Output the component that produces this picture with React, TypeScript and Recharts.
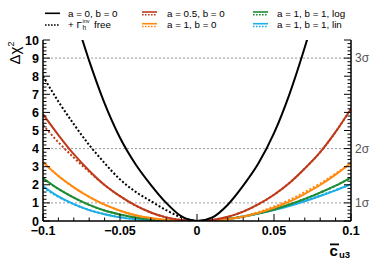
import React from 'react';
import { LineChart, Line, XAxis, YAxis, ReferenceLine } from 'recharts';

// c_u3 scan points
const cu3 = [-0.1, -0.09, -0.08, -0.07, -0.06, -0.05, -0.04, -0.03, -0.02, -0.01, 0, 0.01, 0.02, 0.03, 0.04, 0.05, 0.06, 0.07, 0.08, 0.09, 0.1];

// delta chi2 per scenario (solid = nominal, dotted = + Gamma_h^inv free)
const a0b0 = [17.0, 14.0, 11.5, 8.85, 6.5, 4.6, 3.15, 2.0, 1.0, 0.25, 0, 0.2, 0.9, 1.95, 3.2, 4.85, 7.0, 9.6, 12.5, 15.6, 19.0];
const a0b0Free = [8.0, 6.6, 5.35, 4.2, 3.2, 2.3, 1.62, 1.1, 0.6, 0.2, 0, null, null, null, null, null, null, null, null, null, null];
const a05b0 = [5.9, 4.75, 3.69, 2.78, 1.99, 1.37, 0.86, 0.47, 0.2, 0.05, 0, 0.06, 0.23, 0.52, 0.93, 1.45, 2.1, 2.9, 3.8, 4.92, 6.2];
const a05b0Free = [5.3, 4.35, 3.5, 2.72, 1.99, 1.37, 0.86, 0.47, 0.2, 0.05, 0, 0.06, 0.23, 0.52, 0.93, 1.45, 2.1, 2.9, 3.8, 4.92, 6.2];
const a1b0 = [3.25, 2.49, 1.86, 1.33, 0.9, 0.57, 0.32, 0.16, 0.06, 0.01, 0, 0.02, 0.1, 0.24, 0.45, 0.73, 1.07, 1.5, 1.99, 2.56, 3.2];
const a1b0Free = [3.25, 2.49, 1.86, 1.33, 0.9, 0.57, 0.32, 0.16, 0.06, 0.01, 0, 0.02, 0.1, 0.26, 0.5, 0.8, 1.16, 1.6, 2.07, 2.62, 3.2];
const a1b1Log = [2.36, 1.77, 1.29, 0.89, 0.58, 0.36, 0.19, 0.09, 0.03, 0.005, 0, 0.03, 0.11, 0.24, 0.42, 0.64, 0.91, 1.22, 1.57, 1.95, 2.4];
const a1b1LogFree = [2.36, 1.77, 1.29, 0.89, 0.58, 0.36, 0.19, 0.09, 0.03, 0.005, 0, 0.03, 0.11, 0.24, 0.42, 0.64, 0.91, 1.22, 1.57, 1.95, 2.4];
const a1b1Lin = [1.92, 1.36, 0.93, 0.6, 0.37, 0.2, 0.1, 0.04, 0.01, 0.001, 0, 0.037, 0.12, 0.25, 0.41, 0.6, 0.83, 1.09, 1.38, 1.69, 2.03];
const a1b1LinFree = [1.86, 1.33, 0.93, 0.61, 0.38, 0.21, 0.1, 0.04, 0.01, 0.001, 0, 0.037, 0.12, 0.26, 0.43, 0.63, 0.87, 1.13, 1.41, 1.71, 2.03];

const xMajorLabels = ['\u22120.1', '\u22120.05', '0', '0.05', '0.1'];
const sigmaLevels = [1, 4, 9];
const sigmaLabels = ['1\u03c3', '2\u03c3', '3\u03c3'];

const data = cu3.map((x, i) => ({
  x,
  a0b0: a0b0[i],
  a0b0Free: a0b0Free[i],
  a05b0: a05b0[i],
  a05b0Free: a05b0Free[i],
  a1b0: a1b0[i],
  a1b0Free: a1b0Free[i],
  log: a1b1Log[i],
  logFree: a1b1LogFree[i],
  lin: a1b1Lin[i],
  linFree: a1b1LinFree[i],
}));

const RED = '#bf3a1a';
const ORANGE = '#ff8a10';
const GREEN = '#1f8c35';
const CYAN = '#1eaee6';

const FONT = '"Liberation Sans", Arial, Helvetica, sans-serif';
const PL = 43;
const PR = 351;
const PT = 40;
const PB = 221;

const xTicks = Array.from({ length: 21 }, (_, i) => (i - 10) / 100);
const yTicks = Array.from({ length: 51 }, (_, i) => i / 5);

const BottomTick = (p: any) => {
  const major = p.index % 5 === 0;
  return (
    <g>
      <line x1={p.x} x2={p.x} y1={PB} y2={PB - (major ? 7 : 3.5)} stroke="#000" />
      {major && (
        <text x={p.x} y={235} textAnchor="middle" fontSize={12.5} fontWeight="bold" fontFamily={FONT} fill="#000">
          {xMajorLabels[p.index / 5]}
        </text>
      )}
    </g>
  );
};

const TopTick = (p: any) => {
  const major = p.index % 5 === 0;
  return <line x1={p.x} x2={p.x} y1={PT} y2={PT + (major ? 7 : 3.5)} stroke="#000" />;
};

const LeftTick = (p: any) => {
  const major = p.index % 5 === 0;
  return (
    <g>
      <line x1={PL} x2={PL + (major ? 7 : 3.5)} y1={p.y} y2={p.y} stroke="#000" />
      {major && (
        <text x={39} y={p.y} dy="0.36em" textAnchor="end" fontSize={12.5} fontWeight="bold" fontFamily={FONT} fill="#000">
          {p.index / 5}
        </text>
      )}
    </g>
  );
};

const RightTick = (p: any) => {
  const major = p.index % 5 === 0;
  const v = p.index / 5;
  const s = sigmaLevels.indexOf(v);
  return (
    <g>
      <line x1={PR} x2={PR - (major ? 7 : 3.5)} y1={p.y} y2={p.y} stroke="#000" />
      {major && s >= 0 && (
        <text x={355} y={p.y} dy="0.36em" fontSize={12} fontFamily={FONT} fill="#555">
          {sigmaLabels[s]}
        </text>
      )}
    </g>
  );
};

const Sym = ({ x, y, color, kind }: { x: number; y: number; color: string; kind: string }) => (
  <g>
    {kind !== 'dot' && (
      <line x1={x} x2={x + 15} y1={kind === 'both' ? y - 1.3 : y} y2={kind === 'both' ? y - 1.3 : y} stroke={color} strokeWidth={1.6} />
    )}
    {kind !== 'solid' && (
      <line x1={x} x2={x + 15} y1={kind === 'both' ? y + 1.5 : y} y2={kind === 'both' ? y + 1.5 : y} stroke={color} strokeWidth={1.6} strokeDasharray="1.6 1.4" />
    )}
  </g>
);

const lineProps = { type: 'monotone' as const, dot: false, isAnimationActive: false, xAxisId: 'b', yAxisId: 'l', strokeWidth: 2 };

export default function App() {
  return (
    <div style={{ position: 'absolute', left: 0, top: 0, width: 390, height: 265, background: '#fff' }}>
      <LineChart width={390} height={265} data={data} margin={{ top: 40, right: 0, bottom: 0, left: 0 }}>
        <XAxis
          xAxisId="b"
          dataKey="x"
          type="number"
          domain={[-0.1, 0.1]}
          ticks={xTicks}
          interval={0}
          allowDataOverflow
          height={44}
          axisLine={{ stroke: '#000', strokeWidth: 1.5 }}
          tickLine={false}
          tick={(p: any) => <BottomTick {...p} />}
        />
        <XAxis
          xAxisId="t"
          orientation="top"
          dataKey="x"
          type="number"
          domain={[-0.1, 0.1]}
          ticks={xTicks}
          interval={0}
          allowDataOverflow
          height={0}
          axisLine={{ stroke: '#000', strokeWidth: 1.5 }}
          tickLine={false}
          tick={(p: any) => <TopTick {...p} />}
        />
        <YAxis
          yAxisId="l"
          type="number"
          domain={[0, 10]}
          ticks={yTicks}
          interval={0}
          allowDataOverflow
          width={43}
          axisLine={{ stroke: '#000', strokeWidth: 1.5 }}
          tickLine={false}
          tick={(p: any) => <LeftTick {...p} />}
        />
        <YAxis
          yAxisId="r"
          orientation="right"
          type="number"
          domain={[0, 10]}
          ticks={yTicks}
          interval={0}
          allowDataOverflow
          width={39}
          axisLine={{ stroke: '#000', strokeWidth: 1.5 }}
          tickLine={false}
          tick={(p: any) => <RightTick {...p} />}
        />
        {sigmaLevels.map((v) => (
          <ReferenceLine key={v} xAxisId="b" yAxisId="l" y={v} stroke="#999" strokeDasharray="2 2" strokeWidth={1} />
        ))}
        <Line {...lineProps} dataKey="linFree" stroke={CYAN} strokeDasharray="2 2" />
        <Line {...lineProps} dataKey="lin" stroke={CYAN} />
        <Line {...lineProps} dataKey="logFree" stroke={GREEN} strokeDasharray="2 2" />
        <Line {...lineProps} dataKey="log" stroke={GREEN} />
        <Line {...lineProps} dataKey="a1b0Free" stroke={ORANGE} strokeDasharray="2 2" />
        <Line {...lineProps} dataKey="a1b0" stroke={ORANGE} />
        <Line {...lineProps} dataKey="a05b0Free" stroke={RED} strokeDasharray="2 2" />
        <Line {...lineProps} dataKey="a05b0" stroke={RED} />
        <Line {...lineProps} dataKey="a0b0Free" stroke="#000" strokeDasharray="2 2" />
        <Line {...lineProps} dataKey="a0b0" stroke="#000" />
      </LineChart>
      <svg width={390} height={265} style={{ position: 'absolute', left: 0, top: 0, pointerEvents: 'none' }} fontFamily={FONT}>
        <Sym x={45} y={13.3} color="#000" kind="solid" />
        <text x={68} y={16.6} fontSize={9.8} fill="#000">a = 0, b = 0</text>
        <Sym x={45} y={25} color="#000" kind="dot" />
        <text x={68} y={28.3} fontSize={9.8} fill="#000">+ Γ</text>
        <text x={82.5} y={23} fontSize={5.5} fill="#000">inv</text>
        <text x={82.5} y={29.5} fontSize={6.5} fill="#000">h</text>
        <text x={94} y={28.3} fontSize={9.8} fill="#000">free</text>

        <Sym x={142} y={13.3} color={RED} kind="both" />
        <text x={167} y={16.6} fontSize={9.8} fill="#000">a = 0.5, b = 0</text>
        <Sym x={142} y={25} color={ORANGE} kind="both" />
        <text x={167} y={28.3} fontSize={9.8} fill="#000">a = 1, b = 0</text>

        <Sym x={253} y={13.3} color={GREEN} kind="both" />
        <text x={277} y={16.6} fontSize={9.8} fill="#000">a = 1, b = 1, log</text>
        <Sym x={253} y={25} color={CYAN} kind="both" />
        <text x={277} y={28.3} fontSize={9.8} fill="#000">a = 1, b = 1, lin</text>

        <text transform="translate(20,53) rotate(-90)" textAnchor="middle" fontSize={15} fill="#000">
          Δχ<tspan fontSize={9} dy={-6}>2</tspan>
        </text>

        <line x1={330} x2={339} y1={244.4} y2={244.4} stroke="#000" strokeWidth={1.8} />
        <text x={329.5} y={256} fontSize={15} fontWeight="bold" fill="#000">c</text>
        <text x={339} y={257.5} fontSize={9.5} fontWeight="bold" fill="#000">u3</text>
      </svg>
    </div>
  );
}
